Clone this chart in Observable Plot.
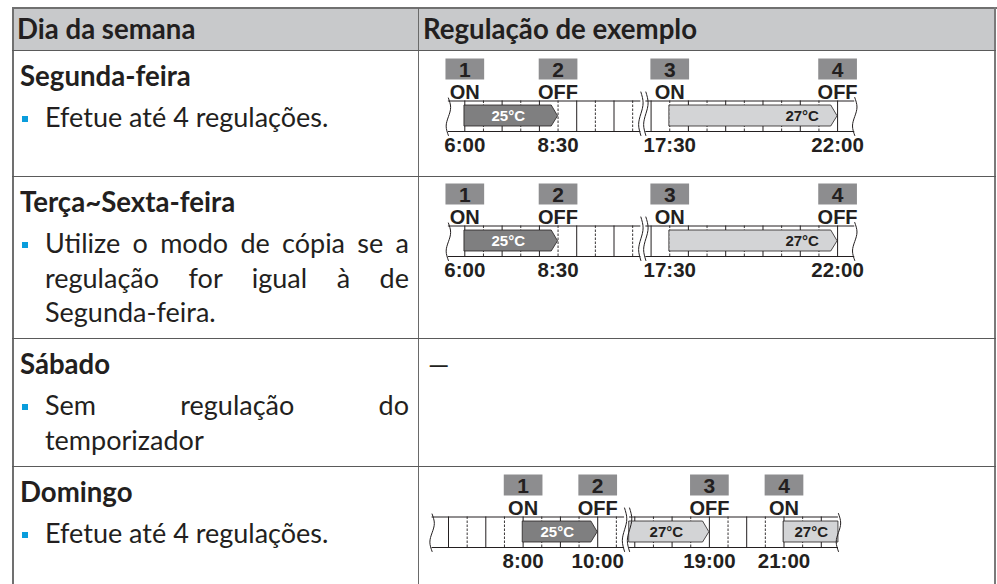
<!DOCTYPE html>
<html>
<head>
<meta charset="utf-8">
<script src="https://cdn.jsdelivr.net/npm/d3@7"></script>
<script src="https://cdn.jsdelivr.net/npm/@observablehq/plot@0.6"></script>
<style>
  html, body { margin: 0; padding: 0; background: #fff; }
  #page { position: relative; width: 997px; height: 584px; overflow: hidden;
          font-family: Lato, "Open Sans", "Noto Sans", sans-serif; color: #231f20; }
</style>
</head>
<body>
<div id="page"></div>
<script>
// ---------------- data ----------------
const columnHeaders = ["Dia da semana", "Regulação de exemplo"];
const dayNames = ["Segunda-feira", "Terça~Sexta-feira", "Sábado", "Domingo"];
const dayNotes = [
  ["Efetue até 4 regulações."],
  ["Utilize o modo de cópia se a", "regulação for igual à de", "Segunda-feira."],
  ["Sem regulação do", "temporizador"],
  ["Efetue até 4 regulações."]
];
const saturdayExample = "—";

// Segunda-feira and Terça~Sexta-feira example
const weekdayEventNo = [1, 2, 3, 4];
const weekdayEventHour = [6, 8.5, 17.5, 22];
const weekdayEventLabel = ["6:00", "8:30", "17:30", "22:00"];
const weekdayEventState = ["ON", "OFF", "ON", "OFF"];
const weekdayBarStart = [6, 17.5];
const weekdayBarEnd = [8.5, 22];
const weekdayBarTemp = ["25°C", "27°C"];
const weekdayBarTone = ["dark", "light"];
const weekdaySpan = [[5.56, 10.72], [16.86, 22.46]];

// Domingo example
const sundayEventNo = [1, 2, 3, 4];
const sundayEventHour = [8, 10, 19, 21];
const sundayEventLabel = ["8:00", "10:00", "19:00", "21:00"];
const sundayEventState = ["ON", "OFF", "OFF", "ON"];
const sundayBarStart = [8, 16.86, 21];
const sundayBarEnd = [10, 19, 22.46];
const sundayBarTemp = ["25°C", "27°C", "27°C"];
const sundayBarTone = ["dark", "light", "light"];
const sundaySpan = [[5.56, 10.72], [16.86, 22.46]];

// ---------------- layout ----------------
const INK = "#231f20";
const page = document.getElementById("page");
const rowTops = [50, 176, 338, 466];
const TABLE_L = 12, TABLE_R = 996, TABLE_T = 8, COL_X = 418;
const BODY_SIZE = 27, HEAD_SIZE = 27.6;

function block(l, t, w, h, bg) {
  const d = document.createElement("div");
  Object.assign(d.style, {position: "absolute", left: l + "px", top: t + "px",
    width: w + "px", height: h + "px", background: bg});
  page.appendChild(d);
  return d;
}
function textLine(str, left, baseline, opts = {}) {
  const size = opts.size || BODY_SIZE, L = 34.5;
  const d = document.createElement("div");
  d.textContent = str;
  const top = baseline - ((L - 1.2 * size) / 2 + 0.987 * size);
  Object.assign(d.style, {position: "absolute", left: left + "px", top: top + "px",
    fontSize: size + "px", lineHeight: L + "px", fontWeight: opts.bold ? 700 : 400,
    whiteSpace: opts.justify ? "normal" : "nowrap"});
  if (opts.width) d.style.width = opts.width + "px";
  if (opts.justify) { d.style.textAlign = "justify"; d.style.textAlignLast = "justify"; }
  page.appendChild(d);
}

// header band
block(TABLE_L, TABLE_T, TABLE_R - TABLE_L, rowTops[0] - TABLE_T, "#c8c9cb");
textLine(columnHeaders[0], 17, 40, {bold: true, size: HEAD_SIZE});
textLine(columnHeaders[1], 423, 40, {bold: true, size: HEAD_SIZE});

// left column
dayNames.forEach((name, i) => {
  const top = rowTops[i];
  textLine(name, 20, top + 37, {bold: true, size: HEAD_SIZE});
  const lines = dayNotes[i];
  lines.forEach((ln, k) => {
    const base = top + 78 + k * 34.5;
    const last = k === lines.length - 1;
    textLine(ln, 45, base, {width: 364, justify: !last});
  });
  block(22, top + 78 - 12, 6, 6, "#0a9ddc");
});
textLine(saturdayExample, 428, rowTops[2] + 37);

// borders
const LINE = "#5a5a5a";
block(TABLE_L - 0.5, TABLE_T - 1, TABLE_R - TABLE_L + 1, 2, "#707070");
block(TABLE_L - 0.5, TABLE_T - 1, 2, 600, "#707070");
block(TABLE_R - 2, TABLE_T - 1, 2, 600, "#7a7a7a");
block(COL_X - 0.5, TABLE_T, 1.6, 600, "#6a6a6a");
rowTops.forEach(t => block(TABLE_L, t - 0.5, TABLE_R - TABLE_L, 1.8, LINE));

// ---------------- timeline diagrams (Observable Plot) ----------------
function timeline(cfg) {
  const HOUR = 37.3, GAP = 5, AMP = 0.06, TIP = 0.17;
  const [s1, s2] = cfg.span;
  const r0 = cfg.firstPx;
  const r1 = r0 + (s1[1] - s1[0]) * HOUR;
  const r2 = r1 + GAP;
  const r3 = r2 + (s2[1] - s2[0]) * HOUR;
  const SB = 81, ST = 50.5;                // strip bottom / top (px in svg)
  const u = px => (SB - px) / (SB - ST);   // px -> strip units
  const BAR_LO = u(76), BAR_HI = u(55);

  const events = cfg.no.map((n, i) => ({n, t: cfg.hour[i], label: cfg.label[i], state: cfg.state[i]}));
  const bars = cfg.bStart.map((s, i) => {
    const e = cfg.bEnd[i];
    const arrow = e < s2[1] - 0.01;
    const bodyEnd = arrow ? e - TIP : e;
    const lx = (bodyEnd - s) > 3 ? bodyEnd - 0.78 : (s + bodyEnd) / 2;
    return {i, s, e, arrow, bodyEnd, lx, temp: cfg.bTemp[i], tone: cfg.bTone[i]};
  });
  const poly = bars.flatMap(b => {
    const pts = [{i: b.i, tone: b.tone, x: b.s, lo: BAR_LO, hi: BAR_HI},
                 {i: b.i, tone: b.tone, x: b.bodyEnd, lo: BAR_LO, hi: BAR_HI}];
    if (b.arrow) pts.push({i: b.i, tone: b.tone, x: b.e, lo: 0.5, hi: 0.5});
    return pts;
  });
  const segs = [{a: s1[0], b: s1[1]}, {a: s2[0], b: s2[1]}];
  const grid = segs.flatMap(({a, b}) => d3.range(Math.ceil(a * 2) / 2, b, 0.5));
  const edges = [
    {id: 0, x: s1[0], top: u(47.5)}, {id: 1, x: s1[1], top: u(41.5)},
    {id: 2, x: s2[0], top: u(41.5)}, {id: 3, x: s2[1], top: u(47)}
  ];
  const wave = edges.flatMap(ed => [0, -1, 0, 1, 0].map((k, j) =>
    ({id: ed.id, x: ed.x + k * AMP, y: u(85) + (j / 4) * (ed.top - u(85))})));

  const textStyle = {fontWeight: "bold", fill: INK};
  return Plot.plot({
    width: 576, height: cfg.height, margin: 0,
    x: {type: "linear", axis: null,
        domain: [s1[0], s1[1], s1[1] + AMP, s2[0] - AMP, s2[0], s2[1]],
        range: [r0, r1, r1 + AMP * HOUR, r2 - AMP * HOUR, r2, r3]},
    y: {type: "linear", axis: null, domain: [0, 1], range: [SB, ST]},
    style: {fontFamily: "'Liberation Sans', Arial, Helvetica, sans-serif", background: "none", overflow: "visible"},
    marks: [
      Plot.ruleY(segs, {x1: "a", x2: "b", y: 1, stroke: INK, strokeWidth: 1}),
      Plot.ruleY(segs, {x1: "a", x2: "b", y: 0, stroke: INK, strokeWidth: 1}),
      Plot.ruleX(grid.filter(t => t % 1 === 0), {x: d => d, y1: 0, y2: 1, stroke: INK, strokeWidth: 1}),
      Plot.ruleX(grid.filter(t => t % 1 !== 0), {x: d => d, y1: 0, y2: 1, stroke: INK, strokeWidth: 0.9, strokeDasharray: "2.5,1.5"}),
      Plot.area(poly.filter(d => d.tone === "dark"), {x1: "x", y1: "lo", y2: "hi", z: "i", fill: "#7f7f80", stroke: INK, strokeWidth: 0.8}),
      Plot.area(poly.filter(d => d.tone === "light"), {x1: "x", y1: "lo", y2: "hi", z: "i", fill: "#d3d4d6", stroke: INK, strokeWidth: 0.8}),
      Plot.text(bars.filter(b => b.tone === "dark"), {x: "lx", y: 0.5, text: "temp", fontSize: 15, fontWeight: "bold", fill: "#ffffff", lineAnchor: "middle"}),
      Plot.text(bars.filter(b => b.tone === "light"), {x: "lx", y: 0.5, text: "temp", fontSize: 15, fontWeight: "bold", fill: INK, lineAnchor: "middle"}),
      Plot.line(wave, {x: "x", y: "y", z: "id", curve: "natural", stroke: INK, strokeWidth: 1}),
      Plot.ruleX(events, {x: "t", y1: u(29.5), y2: u(8.5), stroke: "#8d8d8f", strokeWidth: 38.7}),
      Plot.text(events, {x: "t", y: u(19.5), text: d => String(d.n), fontSize: 21, lineAnchor: "middle", ...textStyle}),
      Plot.text(events, {x: "t", y: u(48), text: "state", fontSize: 20, lineAnchor: "bottom", ...textStyle}),
      Plot.text(events, {x: "t", y: u(87), text: "label", fontSize: 20.5, lineAnchor: "top", ...textStyle})
    ]
  });
}

function place(svg, top) {
  svg.style.position = "absolute";
  svg.style.left = "419px";
  svg.style.top = top + "px";
  page.appendChild(svg);
}

const weekdayCfg = {
  no: weekdayEventNo, hour: weekdayEventHour, label: weekdayEventLabel, state: weekdayEventState,
  bStart: weekdayBarStart, bEnd: weekdayBarEnd, bTemp: weekdayBarTemp, bTone: weekdayBarTone,
  span: weekdaySpan, firstPx: 28.9
};
place(timeline({...weekdayCfg, height: 124}), rowTops[0]);
place(timeline({...weekdayCfg, height: 160}), rowTops[1] - 1);
place(timeline({
  no: sundayEventNo, hour: sundayEventHour, label: sundayEventLabel, state: sundayEventState,
  bStart: sundayBarStart, bEnd: sundayBarEnd, bTemp: sundayBarTemp, bTone: sundayBarTone,
  span: sundaySpan, firstPx: 12.6, height: 117
}), rowTops[3]);
</script>
</body>
</html>
